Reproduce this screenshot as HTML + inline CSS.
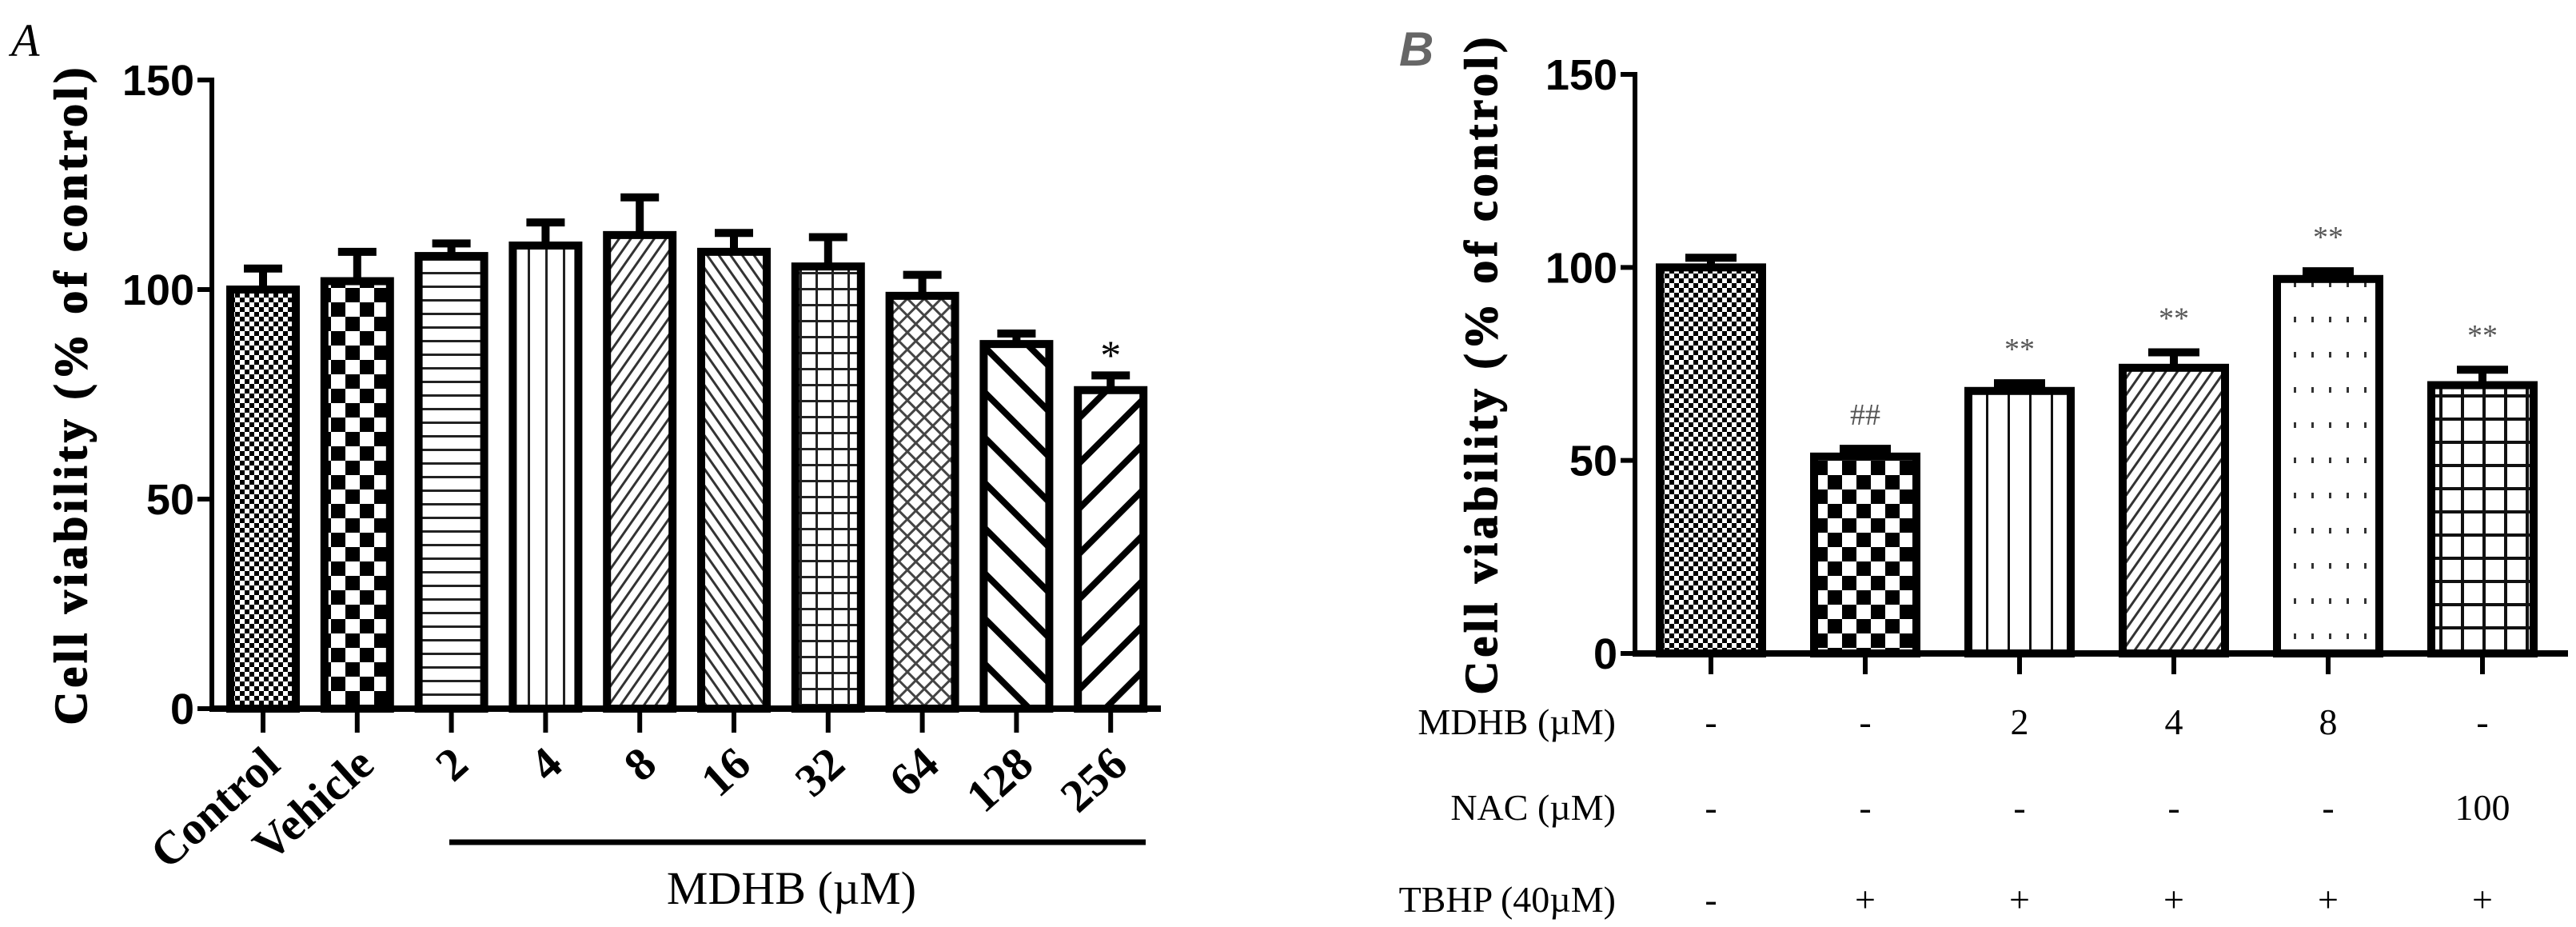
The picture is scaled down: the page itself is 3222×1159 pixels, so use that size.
<!DOCTYPE html>
<html><head><meta charset="utf-8"><style>
html,body{margin:0;padding:0;background:#fff;}
svg{display:block;}
.serif{font-family:"Liberation Serif",serif;}
.sans{font-family:"Liberation Sans",sans-serif;}
</style></head><body>
<svg id="fig" width="3222" height="1159" viewBox="0 0 3222 1159" xmlns="http://www.w3.org/2000/svg">
<defs>
<pattern id="p-fine" width="12" height="12" patternUnits="userSpaceOnUse"><rect width="12" height="12" fill="#fff"/><rect width="6" height="6" fill="#000"/><rect x="6" y="6" width="6" height="6" fill="#000"/></pattern>
<pattern id="p-check" width="36" height="36" patternUnits="userSpaceOnUse"><rect width="36" height="36" fill="#fff"/><rect width="18" height="18" fill="#000"/><rect x="18" y="18" width="18" height="18" fill="#000"/></pattern>
<pattern id="p-hline" width="20" height="17" patternUnits="userSpaceOnUse"><rect width="20" height="17" fill="#fff"/><rect y="0" width="20" height="3" fill="#222"/></pattern>
<pattern id="p-vline" width="22" height="20" patternUnits="userSpaceOnUse"><rect width="22" height="20" fill="#fff"/><rect x="0" width="3" height="20" fill="#222"/></pattern>
<pattern id="p-diag" width="12" height="12" patternUnits="userSpaceOnUse" patternTransform="rotate(35)"><rect width="12" height="12" fill="#fff"/><rect width="3" height="12" fill="#333"/></pattern>
<pattern id="p-bdiag" width="12" height="12" patternUnits="userSpaceOnUse" patternTransform="rotate(-35)"><rect width="12" height="12" fill="#fff"/><rect width="3" height="12" fill="#333"/></pattern>
<pattern id="p-grid" width="20" height="20" patternUnits="userSpaceOnUse"><rect width="20" height="20" fill="#fff"/><rect width="3" height="20" fill="#222"/><rect width="20" height="3" fill="#222"/></pattern>
<pattern id="p-lattice" width="15" height="15" patternUnits="userSpaceOnUse" patternTransform="rotate(45)"><rect width="15" height="15" fill="#fff"/><rect width="3" height="15" fill="#444"/><rect width="15" height="3" fill="#444"/></pattern>
<pattern id="p-wide" width="40" height="40" patternUnits="userSpaceOnUse" patternTransform="rotate(-45)"><rect width="40" height="40" fill="#fff"/><rect width="8" height="40" fill="#000"/></pattern>
<pattern id="p-wide2" width="40" height="40" patternUnits="userSpaceOnUse" patternTransform="rotate(45)"><rect width="40" height="40" fill="#fff"/><rect width="8" height="40" fill="#000"/></pattern>
<pattern id="p-dots" width="22" height="44" patternUnits="userSpaceOnUse"><rect width="22" height="44" fill="#fff"/><rect x="9" y="0" width="3" height="7" fill="#333"/></pattern>
<pattern id="p-vline2" width="27" height="20" patternUnits="userSpaceOnUse"><rect width="27" height="20" fill="#fff"/><rect x="0" width="3" height="20" fill="#111"/></pattern>
<pattern id="p-grid2" width="27" height="29" patternUnits="userSpaceOnUse"><rect width="27" height="29" fill="#fff"/><rect width="4" height="29" fill="#111"/><rect width="27" height="4" fill="#111"/></pattern>
</defs>
<g id="chartA"></g>
<g id="chartB"></g>
</svg>
<script>
const catsA = ["Control","Vehicle","2","4","8","16","32","64","128","256"];
const valsA = [100,102,108,110.5,113,109,105.5,98.5,87,76];
const errA = [5,7,3,5.5,9,4.5,7,5,2.5,3.5];
const sigA = ["","","","","","","","","","*"];
const patsA = ["p-fine","p-check","p-hline","p-vline","p-diag","p-bdiag","p-grid","p-lattice","p-wide","p-wide2"];
const ticksA = [0,50,100,150];

const catsB = ["1","2","3","4","5","6"];
const valsB = [100,51,68,74,97,69.5];
const errB = [2.5,2,2,4,2,4];
const sigB = ["","##","**","**","**","**"];
const patsB = ["p-fine","p-check","p-vline2","p-diag","p-dots","p-grid2"];
const ticksB = [0,50,100,150];
const rowLabelsB = ["MDHB (\u00b5M)","NAC (\u00b5M)","TBHP (40\u00b5M)"];
const rowMDHB = ["-","-","2","4","8","-"];
const rowNAC = ["-","-","-","-","-","100"];
const rowTBHP = ["-","+","+","+","+","+"];

const NS="http://www.w3.org/2000/svg";
function mk(parent,tag,attrs,text){const e=document.createElementNS(NS,tag);for(const k in attrs)e.setAttribute(k,attrs[k]);if(text!==undefined)e.textContent=text;parent.appendChild(e);return e;}

function drawChart(g,o){
  const y=v=>o.y0-(v/150)*(o.y0-o.y150);
  const x=i=>o.x0+i*o.step;
  o.vals.forEach((v,i)=>{
    const cx=x(i),w=o.bw;
    const ey=y(v+o.err[i]);
    const eb=mk(g,'line',{x1:cx,x2:cx,y1:y(v),y2:ey,stroke:'#000','stroke-width':o.sw});
    
    
    const cap=mk(g,'line',{x1:cx-o.cap,x2:cx+o.cap,y1:ey,y2:ey,stroke:'#000','stroke-width':o.sw});
    
    
    const r=mk(g,'rect',{x:cx-w/2+o.sw/2,y:y(v),width:w-o.sw,height:o.y0-y(v),fill:'url(#'+o.pats[i]+')',stroke:'#000','stroke-width':o.sw});
    
    
    if(o.sig[i]){
      const t=mk(g,'text',{x:cx,y:ey-o.sigGap,'text-anchor':'middle','font-size':o.sigSize,fill:o.sigColor,'class':'serif'},o.sig[i]);
      
      
    }
    const tk=mk(g,'line',{x1:cx,x2:cx,y1:o.y0,y2:o.y0+o.tickLen,stroke:'#000','stroke-width':6});
    
    
  });
  const ya=mk(g,'line',{x1:o.ax,x2:o.ax,y1:o.y150-3,y2:o.y0+4,stroke:'#000','stroke-width':6});
  
  
  const xa=mk(g,'line',{x1:o.ax-3,x2:o.xend,y1:o.y0,y2:o.y0,stroke:'#000','stroke-width':8});
  
  
  o.ticks.forEach(t=>{
    const l=mk(g,'line',{x1:o.ax-18,x2:o.ax,y1:y(t),y2:y(t),stroke:'#000','stroke-width':6});
    
    
    const tx=mk(g,'text',{x:o.ax-22,y:y(t)+19,'text-anchor':'end','font-size':54,'font-weight':'bold','class':'sans',fill:'#000'},String(t));
    
    
  });
  const tt=mk(g,'text',{transform:'translate('+o.titleX+','+((o.y0+o.y150)/2)+') rotate(-90)','text-anchor':'middle','font-size':58,'font-weight':'bold','class':'serif','letter-spacing':'5',stroke:'#000','stroke-width':1.5,fill:'#000'},'Cell viability (% of control)');
  
  
  return {x,y};
}

const gA=document.getElementById('chartA');
const A=drawChart(gA,{x0:329,step:117.8,y0:886,y150:100,bw:92,sw:10,cap:24,ax:265,xend:1452,vals:valsA,err:errA,pats:patsA,sig:sigA,names:catsA,ticks:ticksA,tickLen:30,titleX:108,sigGap:8,sigSize:52,sigColor:'#000'});
catsA.forEach((c,i)=>{
  const t=mk(gA,'text',{transform:'translate('+(A.x(i)+24)+',960) rotate(-42)','text-anchor':'end','font-size':58,'font-weight':'bold','class':'serif',fill:'#000'},c);
  
  
});
const ul=mk(gA,'line',{x1:562,x2:1433,y1:1053,y2:1053,stroke:'#000','stroke-width':7});


const xt=mk(gA,'text',{x:990,y:1130,'text-anchor':'middle','font-size':58,'class':'serif',fill:'#000'},'MDHB (\u00b5M)');


const la=mk(gA,'text',{x:14,y:70,'font-size':58,'font-style':'italic','class':'serif',fill:'#000'},'A');



const gB=document.getElementById('chartB');
const B=drawChart(gB,{x0:2140,step:193,y0:817,y150:93,bw:138,sw:10,cap:32,ax:2045,xend:3212,vals:valsB,err:errB,pats:patsB,sig:sigB,names:['control','tbhp','mdhb-2','mdhb-4','mdhb-8','nac'],ticks:ticksB,tickLen:26,titleX:1872,sigGap:30,sigSize:38,sigColor:'#555'});
const rows=[rowMDHB,rowNAC,rowTBHP];
const rowY=[918,1025,1140];
rowLabelsB.forEach((lab,r)=>{
  const t=mk(gB,'text',{x:2021,y:rowY[r],'text-anchor':'end','font-size':46,'class':'serif',fill:'#000'},lab);
  
  
  rows[r].forEach((v,i)=>{
    const c=mk(gB,'text',{x:B.x(i),y:rowY[r],'text-anchor':'middle','font-size':46,'class':'serif',fill:'#000'},v);
    
    
  });
});
const lb=mk(gB,'text',{x:1750,y:82,'font-size':60,'font-style':'italic','font-weight':'bold','class':'sans',fill:'#666'},'B');


</script>
</body></html>
